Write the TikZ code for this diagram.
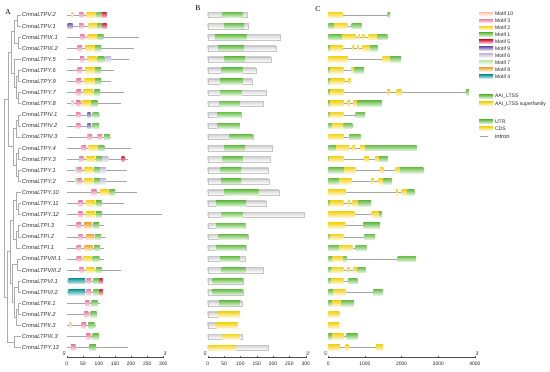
\documentclass[tikz,border=0pt]{standalone}
\usepackage{fontspec}
\setmainfont{Liberation Sans}
\newfontfamily\pserif{Liberation Serif}
\definecolor{mten}{HTML}{F8C8A8}
\definecolor{mthree}{HTML}{F080A8}
\definecolor{mtwo}{HTML}{F5D41E}
\definecolor{mone}{HTML}{6CC04C}
\definecolor{mfive}{HTML}{E0203F}
\definecolor{mnine}{HTML}{7062B0}
\definecolor{msix}{HTML}{C4BCDE}
\definecolor{mseven}{HTML}{BFE6AE}
\definecolor{meight}{HTML}{F0A632}
\definecolor{mfour}{HTML}{12999A}
\definecolor{ggreen}{HTML}{6CC04C}
\definecolor{gyellow}{HTML}{F5D41E}
\tikzset{
  tree/.style={draw=gray!65, line width=0.5pt},
  lab/.style={font=\fontsize{5.8}{6}\selectfont\itshape, anchor=west, inner sep=0.4pt, text=black!80},
  mbox/.style={top color=#1, bottom color=#1!18!white, draw=none},
  pline/.style={draw=gray!70, line width=0.6pt},
  bbar/.style={top color=gray!35, bottom color=white, draw=gray!45, line width=0.3pt},
  axl/.style={draw=black!70, line width=0.4pt},
  axt/.style={font=\fontsize{5}{5}\selectfont, inner sep=0.5pt, text=black!85},
  leg/.style={font=\fontsize{5.1}{5.5}\selectfont, anchor=west, inner sep=0.3pt, text=black!85},
  plet/.style={font=\pserif\fontsize{7.5}{8}\selectfont, inner sep=0pt}
}
\begin{document}
\begin{tikzpicture}[x=1pt,y=-1pt]
\useasboundingbox (0,0) rectangle (550,372);

% panel letters
\node[plet] (pa) at (8,12) {A};
\node[plet] (pb) at (198,8) {B};
\node[plet] (pc) at (318,9) {C};

% tree
\draw[tree] (21,15.0) -| (17,26.1) -- (21,26.1);
\draw[tree] (21,37.2) -| (18,48.3) -- (21,48.3);
\draw[tree] (17,20.55) -| (14,42.75) -- (18,42.75);
\draw[tree] (21,70.5) -| (18,81.5) -- (21,81.5);
\draw[tree] (21,92.6) -| (18,103.7) -- (21,103.7);
\draw[tree] (18,76.0) -| (16,98.15) -- (18,98.15);
\draw[tree] (21,59.4) -| (14,87.08) -- (16,87.08);
\draw[tree] (14,31.65) -| (11,73.24) -- (14,73.24);
\draw[tree] (21,114.8) -| (18,125.9) -- (21,125.9);
\draw[tree] (18,120.35) -| (16,137.0) -- (21,137.0);
\draw[tree] (21,148.1) -| (18,159.2) -- (21,159.2);
\draw[tree] (21,170.3) -| (18,181.4) -- (21,181.4);
\draw[tree] (18,153.65) -| (16,175.85) -- (18,175.85);
\draw[tree] (16,128.68) -| (13,164.75) -- (16,164.75);
\draw[tree] (11,52.45) -| (8,146.7) -- (13,146.7);
\draw[tree] (21,203.5) -| (18,214.6) -- (21,214.6);
\draw[tree] (21,192.4) -| (16,209.05) -- (18,209.05);
\draw[tree] (21,225.7) -| (18,236.8) -- (21,236.8);
\draw[tree] (18,231.25) -| (16,247.9) -- (21,247.9);
\draw[tree] (16,200.7) -| (13,239.6) -- (16,239.6);
\draw[tree] (21,259.0) -| (17,270.1) -- (21,270.1);
\draw[tree] (21,281.2) -| (18,292.3) -- (21,292.3);
\draw[tree] (21,303.4) -| (18,314.4) -- (21,314.4);
\draw[tree] (18,308.9) -| (16,325.5) -- (21,325.5);
\draw[tree] (18,286.75) -| (14,317.2) -- (16,317.2);
\draw[tree] (17,264.55) -| (12,301.98) -- (14,301.98);
\draw[tree] (13,220.15) -| (10,283.27) -- (12,283.27);
\draw[tree] (21,336.6) -| (14,347.7) -- (21,347.7);
\draw[tree] (10,251.7) -| (7,342.15) -- (14,342.15);
\draw[tree] (8,99.6) -| (4,296.9) -- (7,296.9);

% labels
\foreach \r/\t in {0/CmnaLTPV.2,1/CmnaLTPV.1,2/CmnaLTPIX.1,3/CmnaLTPIX.2,4/CmnaLTPY.5,5/CmnaLTPY.6,6/CmnaLTPY.9,7/CmnaLTPY.7,8/CmnaLTPY.8,9/CmnaLTPIV.1,10/CmnaLTPIV.2,11/CmnaLTPIV.3,12/CmnaLTPY.4,13/CmnaLTPY.3,14/CmnaLTPY.1,15/CmnaLTPY.2,16/CmnaLTPY.10,17/CmnaLTPY.11,18/CmnaLTPY.12,19/CmnaLTPI.3,20/CmnaLTPI.2,21/CmnaLTPI.1,22/CmnaLTPVIII.1,23/CmnaLTPVIII.2,24/CmnaLTPVI.1,25/CmnaLTPVI.2,26/CmnaLTPII.1,27/CmnaLTPII.2,28/CmnaLTPII.3,29/CmnaLTPIX.3,30/CmnaLTPY.13}{
  \pgfmathsetmacro\yy{15+11.09*\r}
  \node[lab] (lab\r) at (21.3,\yy) {\t};
}

% panel A: motifs
\foreach \r/\e/\ms in {
0/106.7/{mten/71.7/73.3,mthree/79/83.3,mtwo/86/96.7,mone/96.7/102,mfive/102/106.7},
1/106.7/{mnine/67.7/72.7,mthree/79/83.3,mtwo/88.3/97.3,mone/97.3/102.7,mfive/102.7/106.7},
2/139/{mthree/80/84.3,mtwo/87.7/97.7,mone/97.7/103.3},
3/133.7/{mthree/77.7/82,mtwo/85/95,mone/95/101},
4/128.9/{mthree/80/84,mtwo/87.3/96.7,mone/97.7/104.3,msix/105/111},
5/114.4/{mthree/77.7/82,mtwo/85/95,mone/95/101},
6/110.8/{mthree/76.7/81,mtwo/84.3/95,mone/95/101},
7/124/{mthree/76.7/81,mtwo/83.3/92.7,mone/94.3/100},
8/121/{mten/71.7/73.3,mthree/76/80.3,mtwo/82.3/91.7,mone/91.7/97.3},
9/99.6/{mthree/76/80.3,mnine/87.3/90.7,mone/92.7/98.7},
10/98.6/{mthree/76/80.3,mnine/87.3/90.7,mone/92.3/99},
11/111/{mthree/87.7/92,mthree/97.7/102,mone/104/110},
12/130.5/{mthree/81.7/86,mtwo/88.3/97.7,mone/98.3/104.3},
13/128/{mthree/79/83.3,mtwo/86/95,mone/96/102.7,msix/102.7/108.3,mfive/121.7/124.3},
14/126.6/{mseven/75/77.3,mthree/77.3/81.7,mtwo/84.3/92.7,mone/94/100,msix/100/106},
15/126.9/{mseven/75/77.3,mthree/77.3/81.7,mtwo/84.3/92.7,mone/94/100,msix/100/106},
16/136.8/{mthree/91.7/96.7,mtwo/100/108.3,mone/109.3/115},
17/124/{mthree/78.3/82.7,mtwo/86/95,mone/96/101.7},
18/162.3/{mthree/78.3/82.7,mtwo/86/95,mone/96/101.7},
19/103.5/{mthree/76.7/81,meight/84/91.7,mone/93.3/99},
20/106.3/{mthree/78.3/82.7,meight/86/94,mone/95/101},
21/104.4/{mthree/76.7/81,meight/84.3/92.3,mone/94/100},
22/104/{mthree/76.7/81.7,mtwo/83.3/91.7,mone/92.7/99.3},
23/121/{mthree/79.3/83.7,mtwo/86/94.3,mone/96/101.7},
24/102.7/{mfour/68.3/85,mthree/86.7/91,mone/93.3/99.3,mfive/99.3/102.7},
25/102.7/{mfour/68.3/85,mthree/86.7/91,mone/93.3/99.3,mfive/99.3/102.7},
26/100/{mthree/85/89.3,mone/91.7/97.7},
27/97.3/{mthree/84/88.3,mone/90.7/96.7},
28/95.7/{mten/69.3/71.3,mthree/81.7/86,mone/88.3/94.3},
29/99.3/{mthree/86/90.3,mone/92.7/98.7},
30/127.7/{mthree/71/75.3,mone/89.3/96}}{
  \pgfmathsetmacro\yy{15+11.09*\r}
  \draw[pline] (66.7,\yy) -- (\e,\yy);
  \foreach \c/\a/\b in \ms {
    \path[mbox=\c] (\a,\yy-2.8) rectangle (\b,\yy+2.8);
  }
}

% panel B: domains
\foreach \r/\e/\c/\a/\b in {
0/247.3/ggreen/222.7/242.7, 1/248.3/ggreen/224.3/244, 2/280/ggreen/215/246.7,
3/275.7/ggreen/218.3/244, 4/270.7/ggreen/224.3/245, 5/256/ggreen/221.7/242.7,
6/252.3/ggreen/220/242.7, 7/265.7/ggreen/220/241.7, 8/262.7/ggreen/219.3/240,
9/241/ggreen/217.3/241, 10/239.3/ggreen/217.3/239.3, 11/252.7/ggreen/229/252.3,
12/272/ggreen/224.3/245, 13/270/ggreen/222.7/242.7, 14/268.3/ggreen/220.7/241,
15/268.7/ggreen/221/241, 16/278.7/ggreen/224.3/258.3, 17/265.7/ggreen/216/246,
18/304.3/ggreen/221.7/242.7, 19/245/ggreen/216/245, 20/247.7/ggreen/218.3/247.7,
21/245.7/ggreen/216/245.7, 22/245.3/ggreen/220/240, 23/263.3/ggreen/221.7/245.7,
24/243.3/ggreen/212.7/242.7, 25/243.3/ggreen/212.3/242.3, 26/241.7/ggreen/219/240,
27/239.3/gyellow/218.3/239.3, 28/237.3/gyellow/216.7/237.3, 29/241.7/gyellow/222.3/240,
30/268.3/gyellow/208.3/236}{
  \pgfmathsetmacro\yy{15+11.09*\r}
  \path[bbar] (207.7,\yy-2.6) rectangle (\e,\yy+2.6);
  \path[mbox=\c] (\a,\yy-2.6) rectangle (\b,\yy+2.6);
}

% panel C: gene structures
\foreach \r/\e/\ms in {
0/390/{gyellow/328.3/342.7,ggreen/387.7/390},
1/361.7/{ggreen/328.3/334.3,gyellow/334.3/347.3,ggreen/351.7/361.7},
2/387.3/{ggreen/328.3/342.7,gyellow/342.7/355.7,gyellow/358.3/360,gyellow/362.7/364.3,gyellow/368.3/377.3,ggreen/377.3/387.3},
3/377.7/{ggreen/328.3/330,gyellow/330/342.7,gyellow/352.3/354,gyellow/357.3/359,gyellow/362.3/370,ggreen/370/377.7},
4/401/{gyellow/328.3/347.7,gyellow/382.7/390,ggreen/390/401},
5/364/{ggreen/328.3/330,gyellow/330/343.3,gyellow/351.7/354,ggreen/354/364},
6/350.7/{ggreen/328.3/330.7,gyellow/330.7/344.3,gyellow/348.3/350.7},
7/468.5/{ggreen/328.3/330,gyellow/330/343.3,gyellow/387.3/390,gyellow/396.7/401.7,ggreen/466/468.5},
8/381.7/{ggreen/328.3/330,gyellow/330/344,gyellow/347.7/350,gyellow/353.3/357.3,ggreen/357.3/381.7},
9/365/{ggreen/328.3/330,gyellow/330/343.3,ggreen/355.7/365},
10/352.3/{ggreen/328.3/332.3,gyellow/332.3/343.3,ggreen/343.3/352.3},
11/360.7/{gyellow/328.3/344,ggreen/349/360.7},
12/416.7/{ggreen/328.3/336,gyellow/336/349,gyellow/352.7/355,gyellow/360/365,ggreen/365/416.7},
13/387.7/{ggreen/328.3/329.3,gyellow/329.3/343.3,gyellow/364.3/369,gyellow/375/379,ggreen/379/387.7},
14/423.3/{ggreen/328.3/344,gyellow/344/355.7,gyellow/380/383.3,gyellow/395.7/400,ggreen/400/423.3},
15/391.7/{ggreen/328.3/339,gyellow/339/351.7,gyellow/371/374,gyellow/378.3/383.3,ggreen/383.3/391.7},
16/414.3/{gyellow/328.3/345.7,gyellow/396/397.7,gyellow/401.7/407.3,ggreen/407.3/414.3},
17/371/{ggreen/328.3/330,gyellow/330/343.3,gyellow/348.3/350,gyellow/352.3/358.3,ggreen/358.3/371},
18/381.7/{gyellow/328.3/354.3,gyellow/371.7/379,ggreen/379/381.7},
19/380/{gyellow/328.3/345,ggreen/363.3/380},
20/375/{ggreen/328.3/330,gyellow/330/343.3,ggreen/364.3/375},
21/366.7/{ggreen/328.3/339,gyellow/339/352.3,ggreen/355.7/366.7},
22/416/{ggreen/328.3/332.7,gyellow/332.7/343.3,ggreen/343.3/346.7,ggreen/397.7/416},
23/365.7/{ggreen/328.3/331.7,gyellow/331.7/343.3,gyellow/347.3/350,gyellow/353.3/357.7,ggreen/357.7/365.7},
24/357.3/{ggreen/328.3/331.7,gyellow/331.7/343.3,ggreen/348.3/357.3},
25/382.7/{ggreen/328.3/333.3,gyellow/333.3/345.7,ggreen/373.3/382.7},
26/354/{ggreen/328.3/332.3,gyellow/332.3/341.7,ggreen/341.7/354},
27/339.3/{gyellow/328.3/339.3},
28/339/{gyellow/328.3/339},
29/357.7/{ggreen/328.3/332.3,gyellow/332.3/343.3,ggreen/346.7/357.7},
30/382.7/{gyellow/328.3/340,gyellow/345.7/348.3,gyellow/376/382.7}}{
  \pgfmathsetmacro\yy{15+11.09*\r}
  \draw[pline] (328.3,\yy) -- (\e,\yy);
  \foreach \c/\a/\b in \ms {
    \path[mbox=\c] (\a,\yy-2.8) rectangle (\b,\yy+2.8);
  }
}

% axes
\draw[axl] (66.7,357.5) -- (163.3,357.5);
\foreach \v in {0,50,...,300}{
  \draw[axl] (66.7+0.322*\v,357.5) -- ++(0,-1.6);
  \node[axt] (ta\v) at (66.7+0.322*\v,364) {\v};
}
\node[axt] (a5) at (64.5,353.5) {5'};
\node[axt] (a3) at (165.5,353.5) {3'};

\draw[axl] (207.7,357.5) -- (305.7,357.5);
\foreach \v in {0,50,...,300}{
  \draw[axl] (207.7+0.3267*\v,357.5) -- ++(0,-1.6);
  \node[axt] (tb\v) at (207.7+0.3267*\v,364) {\v};
}
\node[axt] (b5) at (205.5,353.5) {5'};
\node[axt] (b3) at (308,353.5) {3'};

\draw[axl] (328.3,357.5) -- (475,357.5);
\foreach \v in {0,1000,...,4000}{
  \draw[axl] (328.3+0.03667*\v,357.5) -- ++(0,-1.6);
  \node[axt] (tc\v) at (328.3+0.03667*\v,364) {\v};
}
\node[axt] (c5) at (326,353.5) {5'};
\node[axt] (c3) at (477.5,353.5) {3'};

% legend
\foreach \c/\t/\yl in {mten/Motif 10/14, mthree/Motif 3/20.9, mtwo/Motif 2/27.8, mone/Motif 1/34.7, mfive/Motif 5/41.6, mnine/Motif 9/48.5, msix/Motif 6/55.4, mseven/Motif 7/62.3, meight/Motif 8/69.2, mfour/Motif 4/76.5}{
  \path[mbox=\c] (479,\yl-1.8) rectangle (493,\yl+1.8);
  \node[leg] (lg\yl) at (494.5,\yl) {\t};
}
\path[mbox=ggreen] (479,96.7-1.8) rectangle (493,96.7+1.8);
\node[leg] (lgaai) at (494.5,96.7) {AAI\_LTSS};
\path[mbox=gyellow] (479,103.7-1.8) rectangle (493,103.7+1.8);
\node[leg] (lgsup) at (494.5,103.7) {AAI\_LTSS superfamily};
\path[mbox=ggreen] (479,121.7-1.8) rectangle (493,121.7+1.8);
\node[leg] (lgutr) at (494.5,121.7) {UTR};
\path[mbox=gyellow] (479,128.5-1.8) rectangle (493,128.5+1.8);
\node[leg] (lgcds) at (494.5,128.5) {CDS};
\draw[pline, line width=0.5pt] (480,136.7) -- (488,136.7);
\node[leg, font=\fontsize{5.8}{6}\selectfont] (lgint) at (494.5,136.7) {intron};
\end{tikzpicture}
\end{document}
